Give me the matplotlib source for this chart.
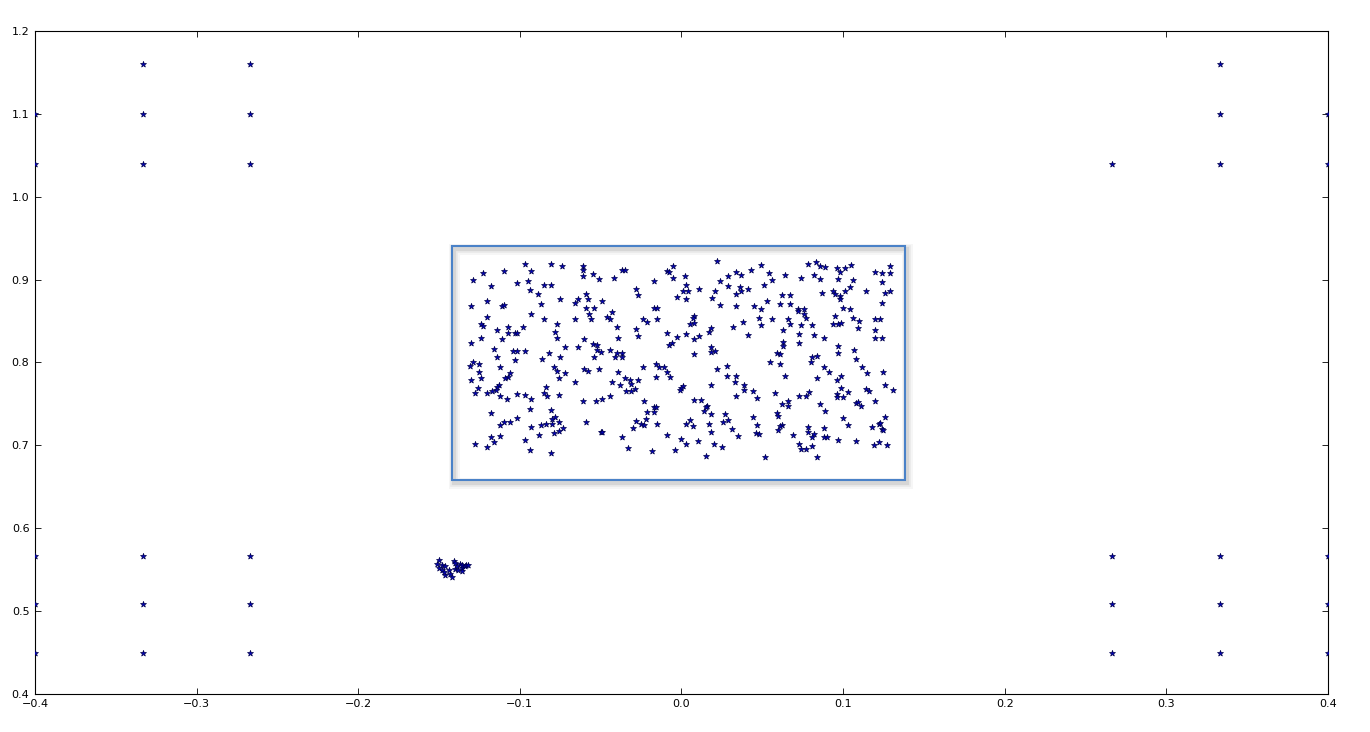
import numpy as np
import matplotlib
matplotlib.use("Agg")
import matplotlib.pyplot as plt
from matplotlib.patches import Rectangle
from matplotlib.ticker import FuncFormatter, MultipleLocator

# fixed grid nodes near the corners
corner_x = [-0.4, -0.4, -0.3333, -0.3333, -0.3333, -0.2667, -0.2667, -0.2667,
            0.2667, 0.3333, 0.3333, 0.3333, 0.4, 0.4,
            -0.4, -0.4, -0.4, -0.3333, -0.3333, -0.3333, -0.2667, -0.2667, -0.2667,
            0.2667, 0.2667, 0.2667, 0.3333, 0.3333, 0.3333, 0.4, 0.4, 0.4]
corner_y = [1.10, 1.04, 1.16, 1.10, 1.04, 1.16, 1.10, 1.04,
            1.04, 1.16, 1.10, 1.04, 1.10, 1.04,
            0.567, 0.508, 0.449, 0.567, 0.508, 0.449, 0.567, 0.508, 0.449,
            0.567, 0.508, 0.449, 0.567, 0.508, 0.449, 0.567, 0.508, 0.449]

# small clump left of centre
cluster = [(-0.150, 0.562), (-0.151, 0.557), (-0.148, 0.555), (-0.150, 0.552), (-0.148, 0.549),
           (-0.146, 0.554), (-0.146, 0.544), (-0.144, 0.549), (-0.143, 0.545), (-0.142, 0.541),
           (-0.141, 0.561), (-0.140, 0.558), (-0.140, 0.551), (-0.139, 0.554), (-0.138, 0.549),
           (-0.137, 0.557), (-0.136, 0.552), (-0.136, 0.555), (-0.134, 0.554), (-0.133, 0.555),
           (-0.132, 0.556), (-0.136, 0.548), (-0.147, 0.547)]

# points inside the highlighted box, read per region
box_upper_left = [(-0.097, 0.919), (-0.081, 0.919), (-0.074, 0.916), (-0.061, 0.916), (-0.061, 0.911),
                  (-0.110, 0.910), (-0.093, 0.910), (-0.123, 0.908), (-0.061, 0.904), (-0.055, 0.907),
                  (-0.051, 0.901), (-0.129, 0.900), (-0.095, 0.898), (-0.102, 0.896), (-0.085, 0.894),
                  (-0.081, 0.893), (-0.118, 0.892), (-0.094, 0.887), (-0.089, 0.882), (-0.059, 0.883),
                  (-0.058, 0.877), (-0.064, 0.876), (-0.066, 0.872), (-0.075, 0.876), (-0.049, 0.874),
                  (-0.120, 0.874), (-0.130, 0.868), (-0.111, 0.868), (-0.110, 0.869), (-0.087, 0.870),
                  (-0.059, 0.866), (-0.054, 0.866), (-0.093, 0.858), (-0.057, 0.858), (-0.120, 0.855),
                  (-0.085, 0.852), (-0.066, 0.853), (-0.056, 0.852), (-0.077, 0.847), (-0.124, 0.846),
                  (-0.123, 0.844), (-0.107, 0.843), (-0.098, 0.843), (-0.114, 0.839), (-0.107, 0.836),
                  (-0.103, 0.836), (-0.102, 0.835), (-0.078, 0.837), (-0.124, 0.830), (-0.077, 0.830),
                  (-0.111, 0.828), (-0.060, 0.828), (-0.130, 0.823), (-0.055, 0.822), (-0.052, 0.821),
                  (-0.072, 0.819), (-0.064, 0.819), (-0.116, 0.816), (-0.052, 0.815), (-0.050, 0.813),
                  (-0.104, 0.814), (-0.102, 0.814), (-0.097, 0.814), (-0.082, 0.812), (-0.114, 0.806),
                  (-0.075, 0.806), (-0.054, 0.806), (-0.103, 0.803), (-0.086, 0.804)]
box_upper_mid = [(0.022, 0.922), (0.043, 0.911), (-0.037, 0.912), (-0.035, 0.912), (-0.005, 0.916),
                 (-0.009, 0.910), (-0.008, 0.909), (0.034, 0.909), (0.029, 0.904), (0.037, 0.905),
                 (-0.042, 0.902), (-0.005, 0.902), (0.002, 0.904), (-0.017, 0.898), (0.024, 0.898),
                 (-0.028, 0.889), (0.003, 0.893), (0.011, 0.889), (0.029, 0.892), (0.036, 0.891),
                 (0.041, 0.889), (0.001, 0.886), (0.004, 0.886), (0.021, 0.886), (0.037, 0.886),
                 (-0.027, 0.881), (-0.003, 0.879), (0.034, 0.882), (0.003, 0.876), (0.019, 0.878),
                 (0.024, 0.869), (0.034, 0.868), (0.045, 0.868), (-0.017, 0.866), (-0.015, 0.866),
                 (-0.043, 0.861), (-0.046, 0.855), (-0.044, 0.852), (-0.024, 0.853), (-0.015, 0.853),
                 (-0.021, 0.849), (0.008, 0.856), (0.007, 0.854), (0.005, 0.847), (0.008, 0.848),
                 (-0.040, 0.843), (-0.028, 0.840), (0.018, 0.841), (0.017, 0.837), (0.032, 0.843),
                 (0.038, 0.849), (-0.009, 0.835), (0.003, 0.834), (-0.003, 0.831), (0.011, 0.832),
                 (-0.039, 0.830), (-0.027, 0.832), (0.008, 0.828), (0.041, 0.833), (-0.006, 0.823),
                 (-0.008, 0.821), (0.018, 0.819), (-0.044, 0.815), (-0.040, 0.812), (-0.037, 0.812),
                 (0.018, 0.813), (0.021, 0.814), (0.008, 0.810), (-0.041, 0.806), (-0.037, 0.806)]
box_upper_right = [(0.049, 0.918), (0.078, 0.919), (0.083, 0.921), (0.086, 0.916), (0.089, 0.915),
                   (0.096, 0.914), (0.101, 0.914), (0.105, 0.918), (0.098, 0.909), (0.120, 0.909),
                   (0.124, 0.908), (0.129, 0.916), (0.129, 0.908), (0.054, 0.908), (0.064, 0.905),
                   (0.082, 0.905), (0.056, 0.900), (0.074, 0.902), (0.086, 0.901), (0.097, 0.901),
                   (0.106, 0.899), (0.124, 0.897), (0.051, 0.894), (0.104, 0.891), (0.094, 0.886),
                   (0.087, 0.884), (0.101, 0.886), (0.114, 0.886), (0.126, 0.884), (0.129, 0.886),
                   (0.095, 0.882), (0.098, 0.880), (0.098, 0.876), (0.062, 0.881), (0.067, 0.881),
                   (0.053, 0.874), (0.061, 0.870), (0.067, 0.870), (0.049, 0.864), (0.072, 0.865),
                   (0.072, 0.862), (0.076, 0.865), (0.076, 0.859), (0.124, 0.872), (0.100, 0.866),
                   (0.104, 0.864), (0.048, 0.854), (0.056, 0.853), (0.066, 0.853), (0.077, 0.854),
                   (0.095, 0.856), (0.106, 0.854), (0.110, 0.850), (0.120, 0.853), (0.123, 0.853),
                   (0.049, 0.845), (0.067, 0.846), (0.074, 0.845), (0.081, 0.845), (0.094, 0.847),
                   (0.097, 0.847), (0.099, 0.848), (0.109, 0.842), (0.063, 0.839), (0.120, 0.839),
                   (0.073, 0.834), (0.082, 0.833), (0.088, 0.830), (0.120, 0.830), (0.124, 0.829),
                   (0.063, 0.825), (0.073, 0.824), (0.063, 0.820), (0.097, 0.820), (0.059, 0.811),
                   (0.061, 0.810), (0.097, 0.811), (0.107, 0.815), (0.081, 0.806), (0.084, 0.808),
                   (0.108, 0.804)]
box_lower_left = [(-0.129, 0.800), (-0.125, 0.798), (-0.131, 0.796), (-0.112, 0.794), (-0.125, 0.789),
                  (-0.106, 0.787), (-0.107, 0.783), (-0.109, 0.781), (-0.124, 0.781), (-0.130, 0.779),
                  (-0.113, 0.773), (-0.114, 0.770), (-0.126, 0.769), (-0.115, 0.767), (-0.117, 0.765),
                  (-0.120, 0.763), (-0.128, 0.763), (-0.112, 0.760), (-0.108, 0.756), (-0.102, 0.762),
                  (-0.097, 0.761), (-0.093, 0.756), (-0.079, 0.794), (-0.077, 0.790), (-0.072, 0.787),
                  (-0.076, 0.781), (-0.066, 0.776), (-0.060, 0.792), (-0.058, 0.790), (-0.051, 0.792),
                  (-0.084, 0.770), (-0.085, 0.763), (-0.083, 0.760), (-0.076, 0.761), (-0.061, 0.754),
                  (-0.053, 0.753), (-0.049, 0.756), (-0.094, 0.744), (-0.081, 0.743), (-0.118, 0.739),
                  (-0.102, 0.733), (-0.110, 0.728), (-0.106, 0.728), (-0.112, 0.724), (-0.093, 0.722),
                  (-0.087, 0.724), (-0.084, 0.726), (-0.080, 0.726), (-0.080, 0.732), (-0.078, 0.734),
                  (-0.076, 0.728), (-0.073, 0.721), (-0.076, 0.717), (-0.079, 0.715), (-0.088, 0.713),
                  (-0.059, 0.728), (-0.050, 0.716), (-0.049, 0.716), (-0.118, 0.710), (-0.112, 0.711),
                  (-0.116, 0.704), (-0.097, 0.706), (-0.128, 0.701), (-0.120, 0.698), (-0.094, 0.694),
                  (-0.081, 0.691)]
box_lower_mid = [(-0.039, 0.788), (-0.024, 0.794), (-0.016, 0.798), (-0.014, 0.795), (-0.011, 0.795),
                 (-0.009, 0.789), (-0.007, 0.782), (-0.016, 0.782), (-0.035, 0.781), (-0.032, 0.779),
                 (-0.027, 0.779), (-0.043, 0.777), (-0.038, 0.773), (-0.031, 0.774), (-0.034, 0.766),
                 (-0.031, 0.765), (-0.029, 0.768), (0.001, 0.771), (0.000, 0.769), (-0.001, 0.767),
                 (-0.044, 0.759), (-0.023, 0.753), (-0.017, 0.746), (-0.016, 0.746), (-0.021, 0.740),
                 (-0.017, 0.740), (-0.022, 0.732), (-0.028, 0.729), (-0.025, 0.726), (-0.023, 0.724),
                 (-0.015, 0.726), (-0.030, 0.721), (-0.037, 0.710), (-0.033, 0.697), (-0.018, 0.693),
                 (-0.009, 0.712), (-0.004, 0.694), (0.000, 0.708), (0.003, 0.702), (0.005, 0.730),
                 (0.003, 0.726), (0.007, 0.723), (0.010, 0.705), (0.008, 0.755), (0.012, 0.755),
                 (0.016, 0.747), (0.015, 0.746), (0.014, 0.741), (0.018, 0.738), (0.017, 0.726),
                 (0.018, 0.716), (0.020, 0.702), (0.025, 0.698), (0.015, 0.687), (0.022, 0.792),
                 (0.028, 0.796), (0.028, 0.784), (0.034, 0.784), (0.018, 0.773), (0.033, 0.776),
                 (0.039, 0.773), (0.039, 0.767), (0.044, 0.766), (0.034, 0.760), (0.027, 0.738),
                 (0.029, 0.731), (0.026, 0.728), (0.031, 0.720), (0.035, 0.711), (0.044, 0.734)]
box_lower_right = [(0.055, 0.800), (0.061, 0.798), (0.080, 0.800), (0.088, 0.795), (0.091, 0.789),
                   (0.112, 0.795), (0.115, 0.787), (0.125, 0.788), (0.064, 0.784), (0.084, 0.781),
                   (0.096, 0.779), (0.099, 0.784), (0.126, 0.773), (0.131, 0.767), (0.099, 0.769),
                   (0.103, 0.764), (0.096, 0.762), (0.096, 0.758), (0.100, 0.758), (0.114, 0.768),
                   (0.116, 0.765), (0.047, 0.757), (0.058, 0.763), (0.066, 0.753), (0.062, 0.750),
                   (0.066, 0.748), (0.073, 0.760), (0.077, 0.759), (0.079, 0.764), (0.086, 0.750),
                   (0.089, 0.741), (0.108, 0.751), (0.109, 0.752), (0.111, 0.748), (0.120, 0.753),
                   (0.059, 0.739), (0.060, 0.735), (0.047, 0.725), (0.046, 0.715), (0.048, 0.714),
                   (0.062, 0.725), (0.061, 0.723), (0.060, 0.718), (0.078, 0.722), (0.078, 0.716),
                   (0.082, 0.714), (0.081, 0.710), (0.069, 0.713), (0.088, 0.721), (0.088, 0.710),
                   (0.090, 0.710), (0.100, 0.733), (0.103, 0.724), (0.097, 0.707), (0.108, 0.705),
                   (0.073, 0.702), (0.077, 0.696), (0.074, 0.695), (0.081, 0.699), (0.084, 0.686),
                   (0.052, 0.686), (0.118, 0.722), (0.122, 0.726), (0.123, 0.727), (0.124, 0.720),
                   (0.125, 0.718), (0.126, 0.734), (0.122, 0.704), (0.119, 0.700), (0.127, 0.700)]

box_points = (box_upper_left + box_upper_mid + box_upper_right +
              box_lower_left + box_lower_mid + box_lower_right)


def minus_fmt(v, pos):
    return ("%.1f" % v).replace("-", "\u2212")


fig = plt.figure(figsize=(13.7, 7.32), dpi=100)
ax = fig.add_axes([0.0255, 0.052, 0.9438, 0.9057])

star = dict(marker="*", s=20, facecolor="#0000c0", edgecolor="#00004a", linewidths=0.5, zorder=3)
ax.scatter(corner_x, corner_y, **star)
cx, cy = np.array(cluster).T
ax.scatter(cx, cy, **star)
bx, by = np.array(box_points).T
ax.scatter(bx, by, **star)

# blue frame around the dense region, with a soft drop shadow below/right
x0, y0, x1, y1 = -0.142, 0.658, 0.1385, 0.941
sx, sy = 0.0012, -0.004
for lw, a in [(8, 0.035), (5.5, 0.05), (3, 0.08)]:
    ax.add_patch(Rectangle((x0 + sx, y0 + sy), x1 - x0, y1 - y0, fill=False,
                           edgecolor=(0, 0, 0, a), lw=lw, zorder=1))
ax.add_patch(Rectangle((x0, y0), x1 - x0, y1 - y0, fill=False,
                       edgecolor="#4a82c8", lw=1.5, zorder=2))

ax.set_xlim(-0.4, 0.4)
ax.set_ylim(0.4, 1.2)
ax.xaxis.set_major_locator(MultipleLocator(0.1))
ax.yaxis.set_major_locator(MultipleLocator(0.1))
ax.xaxis.set_major_formatter(FuncFormatter(minus_fmt))
ax.yaxis.set_major_formatter(FuncFormatter(minus_fmt))
ax.tick_params(direction="in", top=True, right=True, length=4, width=0.6,
               labelsize=8, pad=4)
for sp in ax.spines.values():
    sp.set_linewidth(0.8)

fig.savefig("out.png", dpi=100)
